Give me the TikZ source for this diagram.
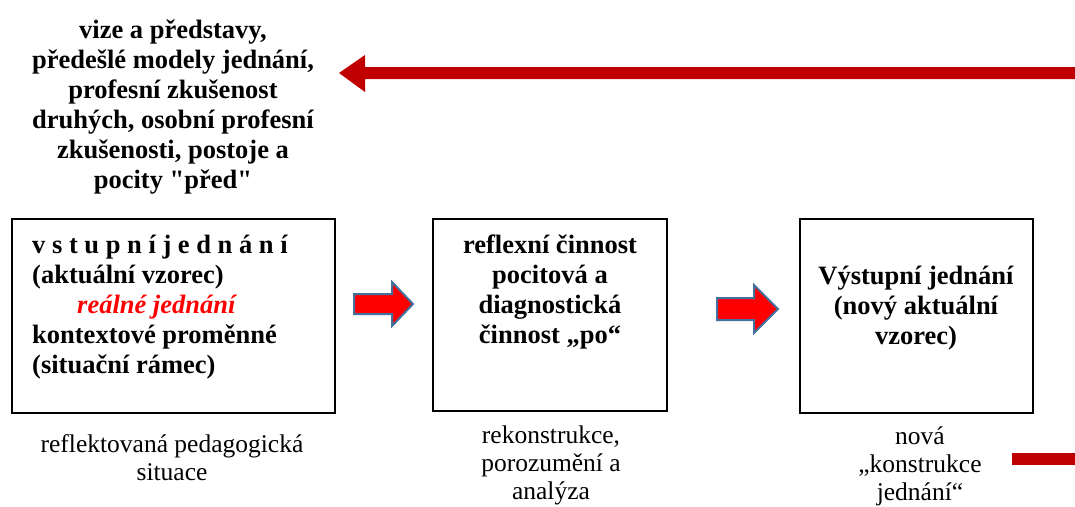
\documentclass[tikz,border=0pt]{standalone}
\usepackage{fontspec}
\setmainfont{Liberation Serif}[Ligatures=TeXOff]
\definecolor{darkred}{HTML}{C00000}
\definecolor{arrowblue}{HTML}{41719C}
\definecolor{pureRed}{HTML}{FF0000}
\begin{document}
\begin{tikzpicture}[x=1pt,y=1pt,
  box/.style={draw=black, line width=1.5pt, minimum width=#1, minimum height=194pt, inner sep=0pt},
  boldtxt/.style={font=\fontsize{26.5}{30}\selectfont\bfseries, align=center, inner sep=0pt},
  plaintxt/.style={font=\fontsize{25.5}{28}\selectfont, align=center, inner sep=0pt},
  blockarrow/.style={fill=pureRed, draw=arrowblue, line width=2pt, line join=miter},
  redbar/.style={fill=darkred, draw=none}
]
\useasboundingbox (0,0) rectangle (1075,-506);

% top text
\node[boldtxt] (pre) at (173,-107) {vize a představy,\\předešlé modely jednání,\\profesní zkušenost\\druhých, osobní profesní\\zkušenosti, postoje a\\pocity "před"};

% long top arrow
\coordinate (tipA) at (339,-73);
\coordinate (startA) at (1075,-73);
\fill[darkred] (startA) ++(0,6) -- (365,-67) -- (365,-55) -- (tipA) -- (365,-92) -- (365,-79) -- ([yshift=-6pt]startA) -- cycle;

% boxes
\node[box=323pt] (b1) at (173.5,-316) {};
\node[box=234pt, minimum height=192pt] (b2) at (550,-315) {};
\node[box=233pt] (b3) at (916.5,-316) {};

% box texts
\node[boldtxt, align=left, anchor=west] (t1) at (32,-307) {v s t u p n í j e d n á n í\\(aktuální vzorec)\\\hspace*{45pt}{\color{pureRed}\itshape reálné jednání}\\kontextové proměnné\\(situační rámec)};
\node[boldtxt] (t2) at (550,-292) {reflexní činnost\\pocitová a\\diagnostická\\činnost „po“};
\node[boldtxt] (t3) at (916,-308) {Výstupní jednání\\(nový aktuální\\vzorec)};

% below texts
\node[plaintxt] (u1) at (172,-458) {reflektovaná pedagogická\\situace};
\node[plaintxt] (u2) at (551,-465) {rekonstrukce,\\porozumění a\\analýza};
\node[plaintxt] (u3) at (920,-466) {nová\\„konstrukce\\jednání“};

% block arrows
\coordinate (a1) at (354,-304);
\draw[blockarrow] (a1) ++(0,10) -- (392,-294) -- (392,-282) -- (413,-304) -- (392,-326) -- (392,-314) -- (354,-314) -- cycle;
\coordinate (a2) at (717,-309);
\draw[blockarrow] (a2) ++(0,11) -- (754,-298) -- (754,-285) -- (778,-309) -- (754,-333) -- (754,-320) -- (717,-320) -- cycle;

% bottom-right red bar
\coordinate (barL) at (1012,-453);
\fill[redbar] (barL) rectangle (1075,-465);
\end{tikzpicture}
\end{document}
